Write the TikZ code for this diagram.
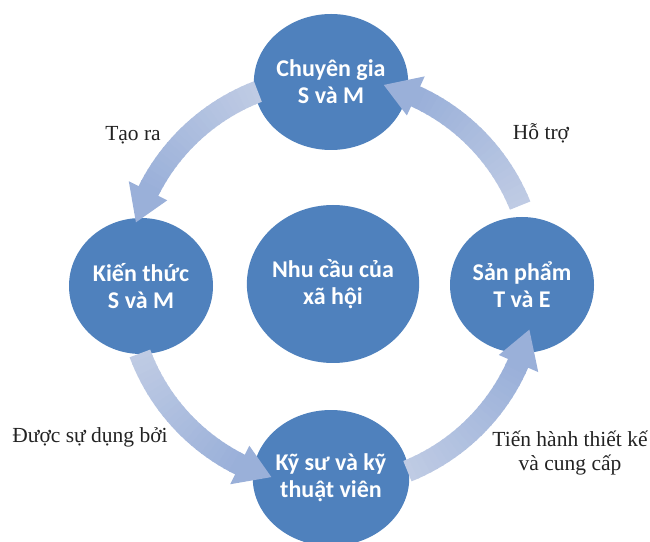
\documentclass[tikz,border=0pt]{standalone}
\usepackage{fontspec}
\setmainfont{Liberation Serif}
\newfontfamily\circfont{Carlito}
\usetikzlibrary{calc,shapes.geometric}
\definecolor{circblue}{HTML}{4F81BD}
\definecolor{arrlight}{HTML}{BFCBE4}
\definecolor{arrdark}{HTML}{9AB0D9}
\definecolor{labelgray}{HTML}{222222}
\newcommand\cycarrow[3]{%
  \foreach \i in {0,...,23} {
    \pgfmathsetmacro\aa{#1+(#2-#1)*\i/24}
    \pgfmathsetmacro\ab{#1+(#2-#1)*(\i+1)/24+0.4}
    \pgfmathsetmacro\pc{100*\i/23}
    \fill[arrdark!\pc!arrlight] ($(C)+(\aa:193pt)$) arc[start angle=\aa, end angle=\ab, radius=193pt]
      -- ($(C)+(\ab:215pt)$) arc[start angle=\ab, end angle=\aa, radius=215pt] -- cycle;
  }
  \fill[arrdark] ($(C)+(#2:183pt)$) -- ($(C)+(#2:226pt)$) -- ($(C)+(#3:204pt)$) -- cycle;
}
\tikzset{
  bubble/.style={ellipse, fill=circblue, inner sep=0pt, minimum width=144pt, minimum height=136pt,
    text=white, font=\circfont\bfseries\fontsize{24}{27}\selectfont, align=center},
  bigbubble/.style={bubble, minimum width=172pt, minimum height=158pt},
  lbl/.style={text=labelgray, font=\fontsize{21.5}{24}\selectfont, align=center, inner sep=0pt}
}
\begin{document}
\begin{tikzpicture}[x=1pt,y=1pt]
\useasboundingbox (0,0) rectangle (650,541);
\coordinate (C) at (331,259);
\node[bubble] (top) at (331,459) {Chuyên gia\\S và M};
\node[bubble] (left) at (141,255) {Kiến thức\\S và M};
\node[bigbubble] (mid) at (333,257) {Nhu cầu của\\xã hội};
\node[bubble] (right) at (522,256) {Sản phẩm\\T và E};
\node[bubble] (bottom) at (331,63) {Kỹ sư và kỹ\\thuật viên};
\cycarrow{111}{153.5}{163}
\cycarrow{22}{65.5}{75}
\cycarrow{200.5}{243.5}{253}
\cycarrow{292}{336.5}{346.5}
\node[lbl] (l1) at (133,406) {Tạo ra};
\node[lbl] (l2) at (541,408) {Hỗ trợ};
\node[lbl] (l3) at (90,104) {Được sự dụng bởi};
\node[lbl] (l4) at (570,88) {Tiến hành thiết kế\\và cung cấp};
\end{tikzpicture}
\end{document}
